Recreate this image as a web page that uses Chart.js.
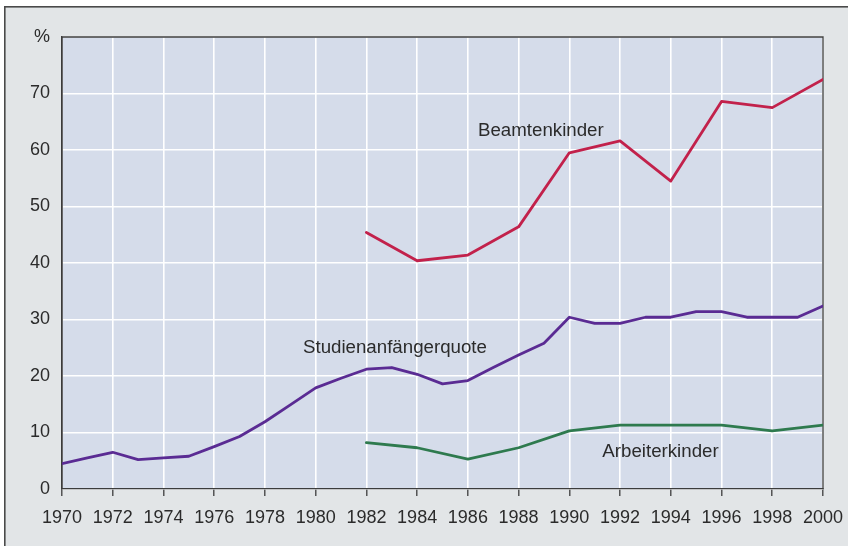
<!DOCTYPE html>
<html>
<head>
<meta charset="utf-8">
<script src="https://cdn.jsdelivr.net/npm/chart.js@4"></script>
<style>
  html, body { margin: 0; padding: 0; background: #fff; }
  #wrap { width: 848px; height: 546px; }
</style>
</head>
<body>
<div id="wrap"><canvas id="myChart" width="848" height="546"></canvas></div>
<script>
// Studienanfängerquote, every year
const quoteYears = [1970, 1971, 1972, 1973, 1974, 1975, 1976, 1977, 1978, 1979,
                    1980, 1981, 1982, 1983, 1984, 1985, 1986, 1987, 1988, 1989,
                    1990, 1991, 1992, 1993, 1994, 1995, 1996, 1997, 1998, 1999, 2000];
const quoteValues = [4.5, 5.5, 6.5, 5.2, 5.5, 5.8, 7.5, 9.3, 11.9, 14.9,
                     17.9, 19.6, 21.2, 21.5, 20.3, 18.6, 19.2, 21.5, 23.7, 25.8,
                     30.4, 29.3, 29.3, 30.4, 30.4, 31.4, 31.4, 30.4, 30.4, 30.4, 32.4];

// Beamtenkinder / Arbeiterkinder, every second year
const surveyYears = [1982, 1984, 1986, 1988, 1990, 1992, 1994, 1996, 1998, 2000];
const beamtenValues = [45.4, 40.4, 41.4, 46.4, 59.5, 61.6, 54.5, 68.6, 67.5, 72.5];
const arbeiterValues = [8.2, 7.3, 5.3, 7.3, 10.3, 11.3, 11.3, 11.3, 10.3, 11.3];

// series names written inside the plot: [text, year, value at baseline]
const seriesLabels = [
  ['Beamtenkinder', 1986.4, 62.5],
  ['Studienanfängerquote', 1979.5, 24.0],
  ['Arbeiterkinder', 1991.3, 5.7]
];

const xMin = 1970, xMax = 2000, yMin = 0, yMax = 80;
const textColor = '#2b2b2b';
const fontFamily = '"Liberation Sans", Arial, Helvetica, sans-serif';

const toPoints = (xs, ys) => xs.map((x, i) => ({ x: x, y: ys[i] }));

// grey panel with frame, blue plot area
const backgroundPlugin = {
  id: 'panel',
  beforeDraw(chart) {
    const ctx = chart.ctx;
    const a = chart.chartArea;
    ctx.save();
    ctx.fillStyle = '#ffffff';
    ctx.fillRect(0, 0, chart.width, chart.height);
    ctx.fillStyle = '#e2e5e7';
    ctx.fillRect(4, 6, chart.width, chart.height);
    ctx.strokeStyle = '#4a4a4a';
    ctx.lineWidth = 1.6;
    ctx.strokeRect(4.8, 6.8, chart.width + 10, chart.height + 10);
    ctx.fillStyle = '#d5dcea';
    ctx.fillRect(a.left, a.top, a.right - a.left, a.bottom - a.top);
    ctx.restore();
  },
  beforeDatasetsDraw(chart) {
    const ctx = chart.ctx;
    const a = chart.chartArea;
    ctx.save();
    ctx.strokeStyle = '#3c3c3c';
    ctx.lineWidth = 1.3;
    ctx.beginPath();
    ctx.moveTo(a.left, a.bottom);
    ctx.lineTo(a.left, a.top);
    ctx.lineTo(a.right, a.top);
    ctx.lineTo(a.right, a.bottom);
    ctx.stroke();
    // unit sign above the y axis
    ctx.fillStyle = textColor;
    ctx.font = '18px ' + fontFamily;
    ctx.textAlign = 'right';
    ctx.textBaseline = 'alphabetic';
    ctx.fillText('%', 50, 42);
    ctx.restore();
  },
  afterDatasetsDraw(chart) {
    const ctx = chart.ctx;
    const xs = chart.scales.x, ys = chart.scales.y;
    ctx.save();
    ctx.fillStyle = textColor;
    ctx.font = '18.7px ' + fontFamily;
    ctx.textAlign = 'left';
    ctx.textBaseline = 'alphabetic';
    seriesLabels.forEach(([txt, yr, v]) => {
      ctx.fillText(txt, xs.getPixelForValue(yr), ys.getPixelForValue(v));
    });
    ctx.restore();
  }
};

const ctx = document.getElementById('myChart').getContext('2d');
const myChart = new Chart(ctx, {
  type: 'line',
  data: {
    datasets: [
      {
        label: 'Beamtenkinder',
        data: toPoints(surveyYears, beamtenValues),
        borderColor: '#c2214b',
        borderWidth: 2.8
      },
      {
        label: 'Studienanfängerquote',
        data: toPoints(quoteYears, quoteValues),
        borderColor: '#5a2b93',
        borderWidth: 2.8
      },
      {
        label: 'Arbeiterkinder',
        data: toPoints(surveyYears, arbeiterValues),
        borderColor: '#2e7a4e',
        borderWidth: 2.8
      }
    ]
  },
  options: {
    responsive: false,
    animation: false,
    events: [],
    elements: {
      point: { radius: 0 },
      line: { tension: 0, fill: false, borderCapStyle: 'round', borderJoinStyle: 'round' }
    },
    layout: { padding: { top: 37, right: 25, left: 0, bottom: 0 } },
    plugins: {
      legend: { display: false },
      tooltip: { enabled: false }
    },
    scales: {
      x: {
        type: 'linear',
        min: xMin,
        max: xMax,
        afterFit(scale) {
          scale.height = 546 - 489;
          scale.paddingLeft = 0;
          scale.paddingRight = 0;
        },
        ticks: {
          stepSize: 2,
          color: textColor,
          font: { family: fontFamily, size: 18 },
          padding: 11,
          maxRotation: 0,
          autoSkip: false,
          callback: (v) => String(v)
        },
        grid: { color: '#ffffff', lineWidth: 1.6, tickColor: '#3c3c3c', tickLength: 7, tickWidth: 1.3 },
        border: { display: true, color: '#3c3c3c', width: 1.3 }
      },
      y: {
        min: yMin,
        max: yMax,
        afterFit(scale) {
          scale.width = 62;
          scale.paddingTop = 0;
          scale.paddingBottom = 0;
        },
        ticks: {
          stepSize: 10,
          color: textColor,
          font: { family: fontFamily, size: 18 },
          padding: 12,
          callback: (v) => (v === 80 ? '' : String(v))
        },
        grid: { color: '#ffffff', lineWidth: 1.6, drawTicks: false },
        border: { display: true, color: '#3c3c3c', width: 1.3 }
      }
    }
  },
  plugins: [backgroundPlugin]
});
</script>
</body>
</html>
